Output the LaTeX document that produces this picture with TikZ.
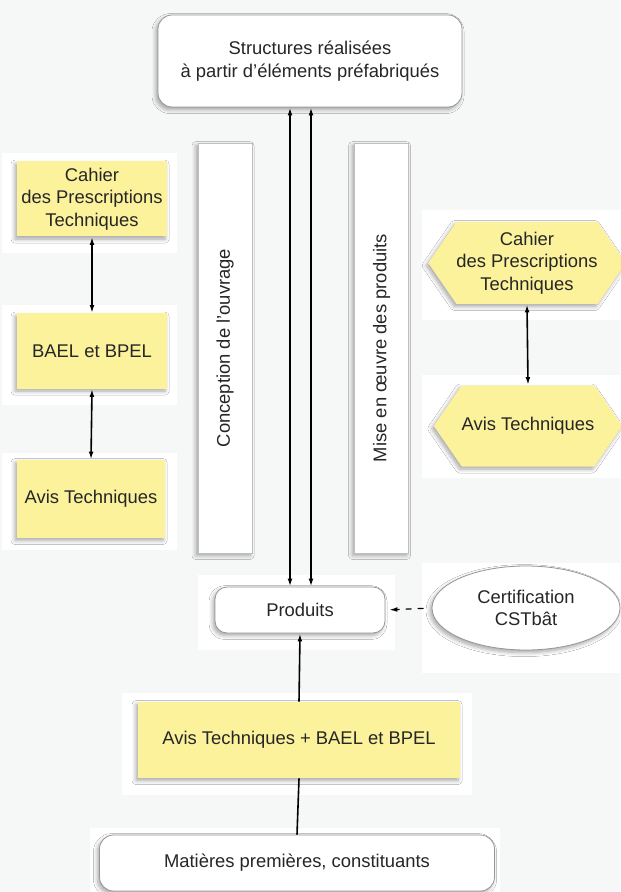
\documentclass[tikz,border=0pt]{standalone}
\usepackage{fontspec}
\setmainfont{Liberation Sans}
\usetikzlibrary{arrows.meta,shapes.geometric,shapes.symbols,shadows.blur,positioning}

\definecolor{fond}{RGB}{246,247,247}
\definecolor{jaune}{RGB}{252,242,156}
\definecolor{bord}{RGB}{150,150,150}

\tikzset{
  every node/.style={font=\fontsize{9.2}{11.2}\selectfont, text=black!85},
  ombre/.style={blur shadow={shadow xshift=-1pt, shadow yshift=-1.3pt, shadow blur radius=2pt, shadow blur steps=6, shadow opacity=35}},
  boite/.style={draw=bord, line width=0.4pt, fill=white, rounded corners=7pt, align=center, inner sep=0pt, ombre},
  jaunebox/.style={fill=jaune, align=center, inner sep=0pt, ombre},
  barre/.style={draw=black!25, line width=0.4pt, fill=white, inner sep=0pt, ombre},
  hexa/.style={signal, signal to=east and west, signal pointer angle=111, fill=jaune, align=center, inner sep=0pt, ombre},
  panneau/.style={fill=white},
  fleche/.style={line width=0.8pt, -{Latex[length=4pt,width=2.4pt]}},
  bifleche/.style={line width=0.8pt, {Latex[length=4pt,width=2.4pt]}-{Latex[length=4pt,width=2.4pt]}}
}

\begin{document}
\begin{tikzpicture}[x=0.5pt,y=-0.5pt]
  \fill[fond] (0,0) rectangle (620,892);
  \useasboundingbox (0,0) rectangle (620,892);

  % white panels behind the boxes
  \fill[panneau] (2,153) rectangle (177,253);
  \fill[panneau] (2,305) rectangle (177,405);
  \fill[panneau] (2,453) rectangle (177,550);
  \fill[panneau] (422,210) rectangle (620,320);
  \fill[panneau] (422,375) rectangle (620,478);
  \fill[panneau] (198,575) rectangle (395,650);
  \fill[panneau] (422,563) rectangle (620,673);
  \fill[panneau] (122,693) rectangle (472,795);
  \fill[panneau] (90,828) rectangle (500,892);

  % top and bottom
  \node[boite, minimum width=152pt, minimum height=46pt] (structures) at (310,61)
    {Structures réalisées\\à partir d'éléments préfabriqués};
  \node[boite, minimum width=85pt, minimum height=23pt, rounded corners=6pt] (produits) at (300,610) {Produits};
  \node[boite, minimum width=197.5pt, minimum height=28pt] (matieres) at (297,863) {Matières premières, constituants};
  \node[jaunebox, minimum width=161pt, minimum height=38pt] (avisbael) at (299,740) {Avis Techniques + BAEL et BPEL};
  \node[ellipse, draw=bord, line width=0.4pt, fill=white, align=center, inner sep=0pt, ombre,
        minimum width=94pt, minimum height=42pt] (certif) at (526,608) {Certification\\CSTbât};

  % left column
  \node[jaunebox, minimum width=75pt, minimum height=37.5pt] (cahierG) at (92,199)
    {Cahier\\des Prescriptions\\Techniques};
  \node[jaunebox, minimum width=75pt, minimum height=37.5pt] (baelG) at (92,351) {BAEL et BPEL};
  \node[jaunebox, minimum width=74pt, minimum height=39pt] (avisG) at (91,499) {Avis Techniques};

  % vertical bars
  \node[barre, minimum width=27pt, minimum height=205pt] (conception) at (225,348)
    {\rotatebox{90}{Conception de l'ouvrage}};
  \node[barre, minimum width=27pt, minimum height=205pt] (miseenoeuvre) at (381.5,348)
    {\rotatebox{90}{Mise en œuvre des produits}};

  % right column
  \node[hexa, minimum width=90pt, minimum height=41pt] (cahierD) at (527,263)
    {Cahier\\des Prescriptions\\Techniques};
  \node[hexa, minimum width=90pt, minimum height=40.5pt] (avisD) at (528,426) {Avis Techniques};

  % connectors
  \coordinate (gauche) at (290,0);
  \coordinate (droite) at (311,0);
  \draw[bifleche] (structures.south -| gauche) -- (produits.north -| gauche);
  \draw[bifleche] (structures.south -| droite) -- (produits.north -| droite);
  \draw[bifleche] (cahierG.south) -- (baelG.north);
  \draw[bifleche] (baelG.south) -- (avisG.north);
  \draw[bifleche] (cahierD.south) -- (avisD.north);
  \draw[fleche, line width=0.6pt, dash pattern=on 3pt off 3pt, shorten >=2pt, shorten <=4pt] (certif.west) -- (produits.east);
  \draw[fleche] (avisbael.north) -- (produits.south);
  \draw[line width=0.8pt] (matieres.north) -- (avisbael.south);
\end{tikzpicture}
\end{document}
